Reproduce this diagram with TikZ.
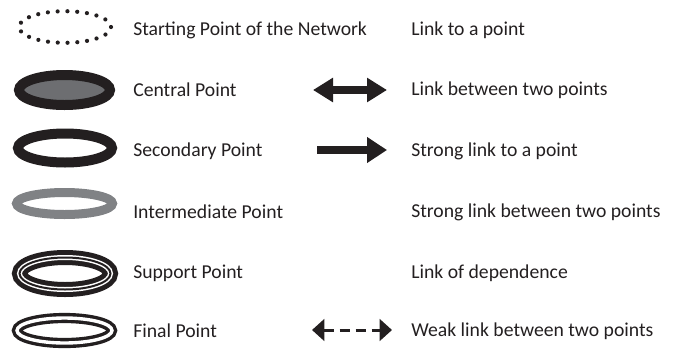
\documentclass[tikz,border=0pt]{standalone}
\usepackage{fontspec}
\setmainfont{Carlito}
\usetikzlibrary{positioning, arrows.meta, shapes.geometric}
\definecolor{ink}{RGB}{35,31,32}
\definecolor{midgrey}{RGB}{109,110,113}
\definecolor{ringgrey}{RGB}{128,130,133}

\tikzset{
  label/.style={anchor=west, inner sep=0pt, text=ink, font=\fontsize{14}{16}\selectfont},
  pointring/.style={ellipse, inner sep=0pt, draw=ink},
  bigarrow/.style={line width=1.9mm, ink, -{Triangle[length=5mm,width=6.2mm]}},
  weakarrow/.style={line width=0.75mm, ink, dash pattern=on 2.5mm off 1.5mm,
    {Triangle[length=3.1mm,width=5.4mm]}-{Triangle[length=3.1mm,width=5.4mm]}}
}

\begin{document}
\begin{tikzpicture}[x=0.25mm, y=-0.25mm]
        \useasboundingbox (0,0) rectangle (673,357);

        % Symboles des points
        \node[pointring, line width=1.05mm, line cap=round, dash pattern=on 0pt off 2.45mm,
              minimum width=23mm, minimum height=7.9mm] (start) at (65,27) {};
        \node[pointring, line width=2.5mm, fill=midgrey,
              minimum width=22.75mm, minimum height=7.5mm] (central) at (64.5,90) {};
        \node[pointring, line width=2.5mm,
              minimum width=23.5mm, minimum height=7.25mm] (secondary) at (65,148) {};
        \node[pointring, draw=ringgrey, line width=2.25mm,
              minimum width=24mm, minimum height=5.5mm] (intermediate) at (64.5,203.5) {};
        \node[pointring, line width=1.25mm, double=white, double distance=1.25mm,
              minimum width=22.75mm, minimum height=8mm] (support) at (65,273.5) {};
        \node[pointring, line width=0.5mm,
              minimum width=22.75mm, minimum height=8mm] (supportmid) at (65,273.5) {};
        \node[pointring, line width=0.85mm, double=white, double distance=0.85mm,
              minimum width=23.75mm, minimum height=6.25mm] (final) at (64.5,330.5) {};

        % Textes des points
        \node[label] (tstart) at (133,30) {Starting Point of the Network};
        \node[label] (tcentral) at (133,90) {Central Point};
        \node[label] (tsecondary) at (133,151) {Secondary Point};
        \node[label] (tintermediate) at (133,212) {Intermediate Point};
        \node[label] (tsupport) at (133,273) {Support Point};
        \node[label] (tfinal) at (133,331) {Final Point};

        % Symboles des liens
        \coordinate (b1) at (313,90);
        \coordinate (b2) at (387,90);
        \draw[bigarrow, {Triangle[length=5mm,width=5.8mm]}-{Triangle[length=5mm,width=5.8mm]}] (b1) -- (b2);
        \coordinate (s1) at (317,150);
        \coordinate (s2) at (387,150);
        \draw[bigarrow] (s1) -- (s2);
        \coordinate (w1) at (312,330);
        \coordinate (w2) at (392,330);
        \draw[weakarrow] (w1) -- (w2);

        % Textes des liens
        \node[label] (lpoint) at (411,30) {Link to a point};
        \node[label] (lboth) at (411,90) {Link between two points};
        \node[label] (lstrong) at (411,151) {Strong link to a point};
        \node[label] (lstrongboth) at (411,212) {Strong link between two points};
        \node[label] (ldepend) at (411,273) {Link of dependence};
        \node[label] (lweak) at (411,331) {Weak link between two points};
    \end{tikzpicture}
\end{document}
